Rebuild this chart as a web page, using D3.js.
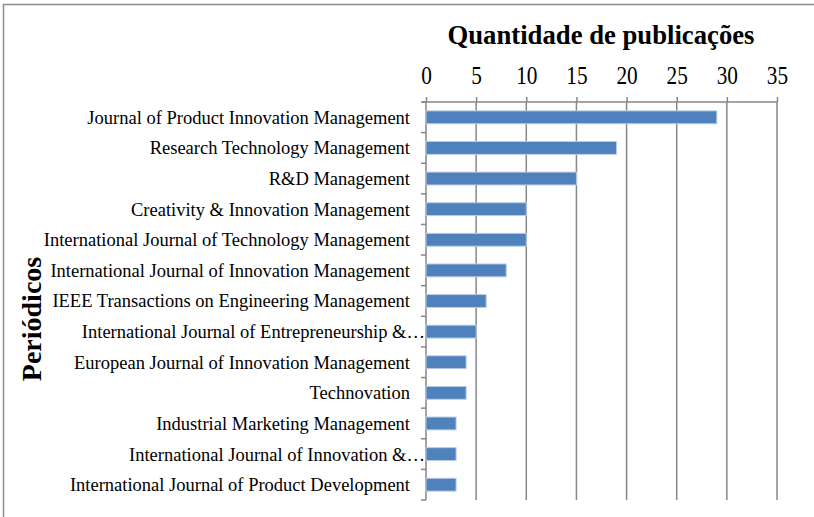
<!DOCTYPE html>
<html>
<head>
<meta charset="utf-8">
<script src="https://cdn.jsdelivr.net/npm/d3@7"></script>
<style>
  body { margin: 0; background: #fff; }
  text { font-family: "Liberation Serif", "Times New Roman", serif; fill: #000; }
</style>
</head>
<body>
<div id="chart"></div>
<script>
var svgWidth = 814;
var svgHeight = 517;

var margin = { top: 102, right: 37, bottom: 17, left: 426 };
var width = 777 - margin.left;
var height = 500 - margin.top;

// data
var journals = [
  "Journal of Product Innovation Management",
  "Research Technology Management",
  "R&D Management",
  "Creativity & Innovation Management",
  "International Journal of Technology Management",
  "International Journal of Innovation Management",
  "IEEE Transactions on Engineering Management",
  "International Journal of Entrepreneurship &\u2026",
  "European Journal of Innovation Management",
  "Technovation",
  "Industrial Marketing Management",
  "International Journal of Innovation &\u2026",
  "International Journal of Product Development"
];
var publications = [29, 19, 15, 10, 10, 8, 6, 5, 4, 4, 3, 3, 3];
var xTicks = [0, 5, 10, 15, 20, 25, 30, 35];

var svg = d3.select("#chart")
  .append("svg")
  .attr("width", svgWidth)
  .attr("height", svgHeight);

// outer frame (top and left edges visible)
svg.append("line").attr("x1", 3).attr("x2", svgWidth).attr("y1", 4.5).attr("y2", 4.5)
  .attr("stroke", "#8c8c8c").attr("stroke-width", 1.5);
svg.append("line").attr("x1", 3.5).attr("x2", 3.5).attr("y1", 4).attr("y2", svgHeight)
  .attr("stroke", "#8c8c8c").attr("stroke-width", 1.5);

var chartGroup = svg.append("g")
  .attr("transform", `translate(${margin.left}, ${margin.top})`);

var xScale = d3.scaleLinear().domain([0, 35]).range([0, width]);
var yScale = d3.scaleBand().domain(journals).range([0, height]).paddingInner(0.58).paddingOuter(0.29);

var gridColor = "#878787";

// vertical gridlines
chartGroup.selectAll(".grid")
  .data(xTicks.slice(1))
  .enter()
  .append("line")
  .attr("x1", d => xScale(d))
  .attr("x2", d => xScale(d))
  .attr("y1", 0)
  .attr("y2", height)
  .attr("stroke", gridColor)
  .attr("stroke-width", 1.5);

// top axis
var xAxis = d3.axisTop(xScale).tickValues(xTicks).tickSize(5).tickPadding(13);
var xAxisG = chartGroup.append("g").call(xAxis);
xAxisG.select(".domain").attr("stroke", gridColor).attr("stroke-width", 1.5)
  .attr("d", `M-4,0H${width}`);
xAxisG.selectAll(".tick line").attr("stroke", gridColor).attr("stroke-width", 1.5);
// condensed digits, as in the original
xAxisG.selectAll(".tick text")
  .style("font-family", "Liberation Serif")
  .style("font-size", "26px")
  .attr("transform", "scale(0.82,1)");

// left axis with ticks between categories
var yAxisG = chartGroup.append("g");
yAxisG.append("line")
  .attr("x1", 0).attr("x2", 0).attr("y1", 0).attr("y2", height)
  .attr("stroke", gridColor).attr("stroke-width", 1.5);
var step = height / journals.length;
yAxisG.selectAll(".ytick")
  .data(d3.range(journals.length + 1))
  .enter()
  .append("line")
  .attr("x1", -5).attr("x2", 0)
  .attr("y1", i => i * step).attr("y2", i => i * step)
  .attr("stroke", gridColor).attr("stroke-width", 1.5);

// bars
chartGroup.selectAll(".bar")
  .data(publications)
  .enter()
  .append("rect")
  .attr("x", 0)
  .attr("y", (d, i) => yScale(journals[i]))
  .attr("width", d => xScale(d))
  .attr("height", yScale.bandwidth())
  .attr("fill", "#4f81bd")
  .attr("stroke", "#b9cde5")
  .attr("stroke-width", 1);

// category labels (truncated ones run up to the axis, like Excel does)
chartGroup.selectAll(".cat")
  .data(journals)
  .enter()
  .append("text")
  .attr("x", d => d.endsWith("\u2026") ? -1 : -16)
  .attr("y", d => yScale(d) + yScale.bandwidth() / 2)
  .attr("dy", "0.35em")
  .attr("text-anchor", "end")
  .style("font-size", "18.5px")
  .text(d => d);

// axis titles
svg.append("text")
  .attr("x", 601)
  .attr("y", 44)
  .attr("text-anchor", "middle")
  .style("font-size", "27px")
  .style("font-weight", "bold")
  .attr("textLength", 307)
  .attr("lengthAdjust", "spacingAndGlyphs")
  .text("Quantidade de publicações");

svg.append("text")
  .attr("transform", "translate(41, 319) rotate(-90)")
  .attr("text-anchor", "middle")
  .style("font-size", "28px")
  .style("font-weight", "bold")
  .text("Periódicos");
</script>
</body>
</html>
